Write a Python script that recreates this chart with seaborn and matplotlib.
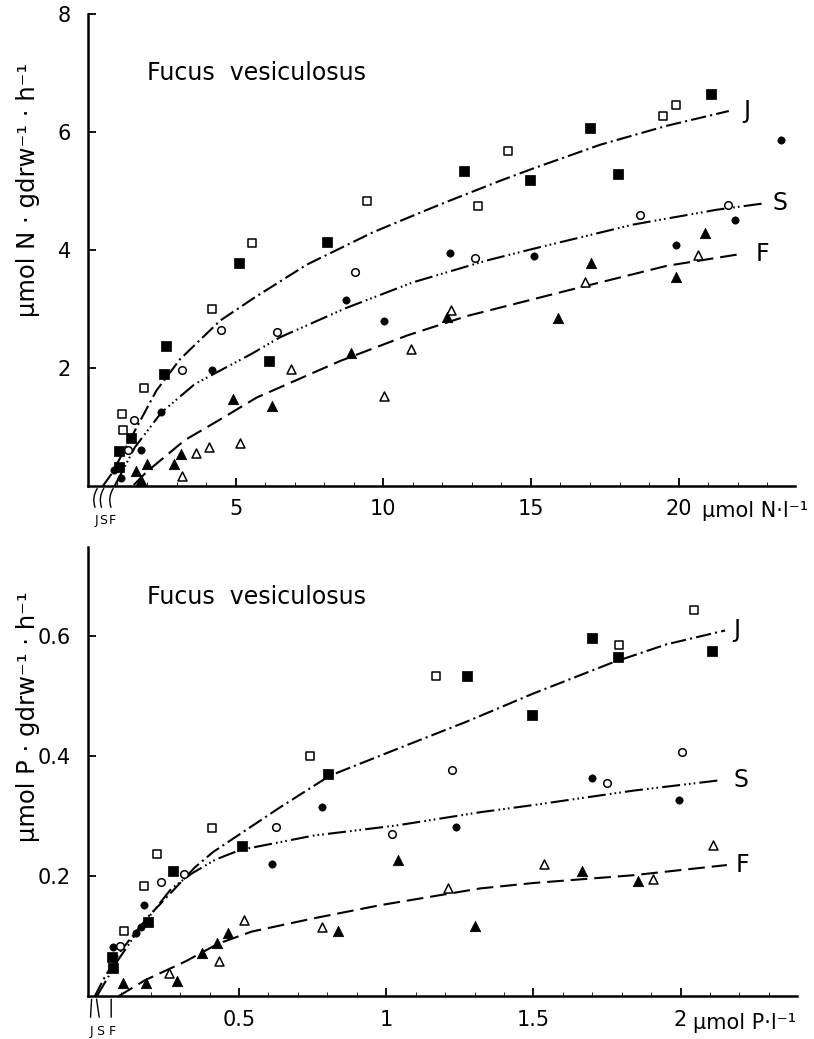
import matplotlib
matplotlib.use("Agg")
import matplotlib.pyplot as plt
import seaborn as sns

# ---- N uptake (upper panel) ----
n_j_fill_x = [1.05, 1.05, 1.47, 2.57, 2.65, 5.11, 6.14, 8.1, 12.72, 14.98, 17.01, 17.95, 21.08]
n_j_fill_y = [0.33, 0.59, 0.81, 1.90, 2.38, 3.77, 2.12, 4.13, 5.34, 5.18, 6.07, 5.28, 6.64]
n_j_open_x = [1.14, 1.18, 1.90, 4.21, 5.54, 9.44, 13.21, 14.24, 19.46, 19.9]
n_j_open_y = [1.23, 0.96, 1.66, 3.00, 4.11, 4.82, 4.74, 5.68, 6.26, 6.45]
n_s_fill_x = [0.87, 1.11, 1.81, 2.49, 4.19, 8.73, 10.04, 12.26, 15.11, 19.91, 21.9, 23.48]
n_s_fill_y = [0.27, 0.14, 0.61, 1.25, 1.97, 3.15, 2.79, 3.95, 3.90, 4.09, 4.50, 5.86]
n_s_open_x = [1.36, 1.56, 3.17, 4.52, 6.41, 9.05, 13.11, 18.7, 21.66]
n_s_open_y = [0.61, 1.12, 1.97, 2.64, 2.61, 3.63, 3.87, 4.59, 4.76]
n_f_fill_x = [1.64, 1.81, 2.0, 2.92, 3.14, 4.92, 6.24, 8.9, 12.15, 15.91, 17.04, 19.91, 20.88]
n_f_fill_y = [0.25, 0.10, 0.38, 0.37, 0.55, 1.47, 1.35, 2.26, 2.86, 2.84, 3.77, 3.54, 4.28]
n_f_open_x = [3.17, 3.65, 4.1, 5.15, 6.87, 10.03, 10.94, 12.29, 16.84, 20.66]
n_f_open_y = [0.17, 0.56, 0.66, 0.74, 1.98, 1.52, 2.33, 2.98, 3.46, 3.92]

n_j_curve_x = [0.5, 0.8, 1.59, 2.32, 3.12, 4.47, 5.6, 7.41, 9.66, 11.93, 13.96, 15.09, 17.35, 19.6, 21.7]
n_j_curve_y = [0.0, 0.21, 0.94, 1.62, 2.15, 2.80, 3.18, 3.75, 4.30, 4.77, 5.17, 5.38, 5.78, 6.10, 6.35]
n_s_curve_x = [0.9, 1.59, 2.49, 3.62, 5.54, 6.5, 8.76, 11.0, 13.5, 15.09, 18.48, 21.3, 22.94]
n_s_curve_y = [0.0, 0.66, 1.25, 1.73, 2.24, 2.52, 3.02, 3.45, 3.82, 4.02, 4.43, 4.68, 4.79]
n_f_curve_x = [1.55, 1.98, 3.28, 4.41, 5.71, 8.54, 10.8, 12.83, 16.22, 19.6, 22.1]
n_f_curve_y = [0.02, 0.24, 0.78, 1.11, 1.50, 2.12, 2.55, 2.88, 3.31, 3.73, 3.93]
n_thresh = [0.37, 0.59, 0.91]

# ---- P uptake (lower panel) ----
p_j_fill_x = [0.068, 0.073, 0.192, 0.277, 0.511, 0.803, 1.275, 1.494, 1.698, 1.788, 2.106]
p_j_fill_y = [0.066, 0.047, 0.124, 0.209, 0.250, 0.370, 0.534, 0.469, 0.598, 0.565, 0.576]
p_j_open_x = [0.11, 0.177, 0.22, 0.409, 0.741, 1.169, 1.791, 2.046]
p_j_open_y = [0.109, 0.184, 0.238, 0.281, 0.400, 0.534, 0.585, 0.644]
p_s_fill_x = [0.071, 0.149, 0.166, 0.177, 0.612, 0.783, 1.237, 1.698, 1.995]
p_s_fill_y = [0.082, 0.105, 0.115, 0.153, 0.220, 0.315, 0.283, 0.364, 0.328]
p_s_open_x = [0.096, 0.235, 0.314, 0.626, 1.019, 1.225, 1.749, 2.004]
p_s_open_y = [0.084, 0.190, 0.204, 0.282, 0.271, 0.378, 0.355, 0.408]
p_f_fill_x = [0.105, 0.184, 0.288, 0.373, 0.424, 0.464, 0.835, 1.039, 1.302, 1.666, 1.856]
p_f_fill_y = [0.023, 0.023, 0.025, 0.072, 0.089, 0.106, 0.109, 0.228, 0.117, 0.209, 0.192]
p_f_open_x = [0.263, 0.432, 0.517, 0.783, 1.209, 1.536, 1.907, 2.109]
p_f_open_y = [0.039, 0.059, 0.128, 0.116, 0.180, 0.220, 0.195, 0.253]

p_j_curve_x = [0.01, 0.045, 0.10, 0.192, 0.283, 0.35, 0.413, 0.639, 0.809, 1.05, 1.273, 1.5, 1.771, 1.953, 2.151]
p_j_curve_y = [0.0, 0.033, 0.077, 0.133, 0.180, 0.215, 0.241, 0.315, 0.368, 0.415, 0.458, 0.505, 0.557, 0.587, 0.610]
p_s_curve_x = [0.017, 0.09, 0.158, 0.271, 0.34, 0.42, 0.503, 0.752, 1.036, 1.319, 1.5, 1.839, 2.128]
p_s_curve_y = [0.0, 0.061, 0.110, 0.180, 0.205, 0.228, 0.244, 0.268, 0.285, 0.307, 0.319, 0.343, 0.360]
p_f_curve_x = [0.09, 0.181, 0.317, 0.43, 0.543, 0.752, 0.979, 1.319, 1.5, 1.839, 2.157]
p_f_curve_y = [0.0, 0.027, 0.058, 0.088, 0.108, 0.130, 0.152, 0.180, 0.189, 0.202, 0.219]
p_thresh = [0.0, 0.015, 0.066]

season_labels = ["J", "S", "F"]

sns.set_style("ticks")
plt.rcParams["font.family"] = ["DejaVu Sans"]
plt.rcParams["lines.scale_dashes"] = False
for key in ["text.color", "axes.labelcolor", "xtick.color", "ytick.color", "axes.edgecolor"]:
    plt.rcParams[key] = "black"

dash_j = (0, (11, 3, 1.5, 3))
dash_s = (0, (13, 3, 1.2, 2.2, 1.2, 2.2, 1.2, 3))
dash_f = (0, (12, 5))


def draw_panel(ax, pts, curves, thresh, mark_off, label_off):
    (jf, jo, sf, so, ff, fo) = pts
    lines = [(curves[0], dash_j), (curves[1], dash_s), (curves[2], dash_f)]
    for (cx, cy), ls in lines:
        sns.lineplot(x=cx, y=cy, ax=ax, color="black", lw=1.5, linestyle=ls,
                     sort=False, estimator=None)
    # curve end labels
    for (cx, cy), lab, off in zip(curves, season_labels, label_off):
        ax.annotate(lab, xy=(cx[-1], cy[-1]), xytext=(off, 0), textcoords="offset points",
                    ha="left", va="center", fontsize=17)
    sns.scatterplot(x=jf[0], y=jf[1], ax=ax, marker="s", s=42, color="black", edgecolor="black", zorder=3)
    sns.scatterplot(x=jo[0], y=jo[1], ax=ax, marker="s", s=30, facecolor="white", edgecolor="black", linewidth=1.1, zorder=3)
    sns.scatterplot(x=sf[0], y=sf[1], ax=ax, marker="o", s=28, color="black", edgecolor="black", zorder=3)
    sns.scatterplot(x=so[0], y=so[1], ax=ax, marker="o", s=30, facecolor="white", edgecolor="black", linewidth=1.1, zorder=3)
    sns.scatterplot(x=ff[0], y=ff[1], ax=ax, marker="^", s=55, color="black", edgecolor="black", zorder=3)
    sns.scatterplot(x=fo[0], y=fo[1], ax=ax, marker="^", s=42, facecolor="white", edgecolor="black", linewidth=1.1, zorder=3)
    # threshold marks below the x axis
    for t, lab, (dx, rad) in zip(thresh, season_labels, mark_off):
        ax.annotate("", xy=(t, 0), xytext=(dx, -17), textcoords="offset points",
                    arrowprops=dict(arrowstyle="-", lw=1.0, color="black",
                                    connectionstyle=f"arc3,rad={rad}"),
                    annotation_clip=False)
        ax.annotate(lab, xy=(t, 0), xytext=(dx + 0.5, -25), textcoords="offset points",
                    ha="center", va="center", fontsize=9, annotation_clip=False)
    sns.despine(ax=ax)
    for sp in ["left", "bottom"]:
        ax.spines[sp].set_linewidth(1.8)
    ax.tick_params(which="major", direction="in", length=6, width=1.3, labelsize=15)
    ax.tick_params(which="minor", direction="in", length=3, width=0.6)


fig = plt.figure(figsize=(8.14, 10.39), dpi=100)
ax1 = fig.add_axes([0.108, 0.532, 0.869, 0.455])
ax2 = fig.add_axes([0.108, 0.041, 0.871, 0.433])

draw_panel(ax1,
           [(n_j_fill_x, n_j_fill_y), (n_j_open_x, n_j_open_y),
            (n_s_fill_x, n_s_fill_y), (n_s_open_x, n_s_open_y),
            (n_f_fill_x, n_f_fill_y), (n_f_open_x, n_f_open_y)],
           [(n_j_curve_x, n_j_curve_y), (n_s_curve_x, n_s_curve_y), (n_f_curve_x, n_f_curve_y)],
           n_thresh, [(-2, -0.3), (-2, -0.3), (-2, -0.3)], [10, 5, 11])
ax1.set_xlim(0, 23.95)
ax1.set_ylim(0, 8)
ax1.set_xticks([5, 10, 15, 20])
ax1.set_xticklabels(["5", "10", "15", "20"])
ax1.set_xticks(list(range(1, 24)), minor=True)
ax1.set_yticks([2, 4, 6, 8])
ax1.set_yticklabels(["2", "4", "6", "8"])
ax1.tick_params(axis="y", pad=12)
ax1.tick_params(axis="x", pad=9)
ax1.set_ylabel("µmol N · gdrw⁻¹ · h⁻¹", fontsize=17.5)
ax1.yaxis.set_label_coords(-0.068, 0.627)
ax1.set_xlabel("")
ax1.text(0.083, 0.875, "Fucus  vesiculosus", transform=ax1.transAxes, fontsize=17, va="center")
ax1.text(0.868, -0.052, "µmol N·l⁻¹", transform=ax1.transAxes, fontsize=15, va="center")

draw_panel(ax2,
           [(p_j_fill_x, p_j_fill_y), (p_j_open_x, p_j_open_y),
            (p_s_fill_x, p_s_fill_y), (p_s_open_x, p_s_open_y),
            (p_f_fill_x, p_f_fill_y), (p_f_open_x, p_f_open_y)],
           [(p_j_curve_x, p_j_curve_y), (p_s_curve_x, p_s_curve_y), (p_f_curve_x, p_f_curve_y)],
           p_thresh, [(-1, 0.0), (2.5, 0.0), (0, 0.0)], [6, 11, 6])
ax2.set_xlim(-0.013, 2.395)
ax2.set_ylim(0, 0.75)
ax2.set_xticks([0.5, 1, 1.5, 2])
ax2.set_xticklabels(["0.5", "1", "1.5", "2"])
ax2.set_xticks([i / 10 for i in range(1, 24)], minor=True)
ax2.set_yticks([0.2, 0.4, 0.6])
ax2.set_yticklabels(["0.2", "0.4", "0.6"])
ax2.tick_params(axis="y", pad=12)
ax2.tick_params(axis="x", pad=10)
ax2.set_ylabel("µmol P · gdrw⁻¹ · h⁻¹", fontsize=17.5)
ax2.yaxis.set_label_coords(-0.068, 0.622)
ax2.set_xlabel("")
ax2.text(0.083, 0.887, "Fucus  vesiculosus", transform=ax2.transAxes, fontsize=17, va="center")
ax2.text(0.853, -0.06, "µmol P·l⁻¹", transform=ax2.transAxes, fontsize=15, va="center")

fig.savefig("out.png", dpi=100, facecolor="white")
